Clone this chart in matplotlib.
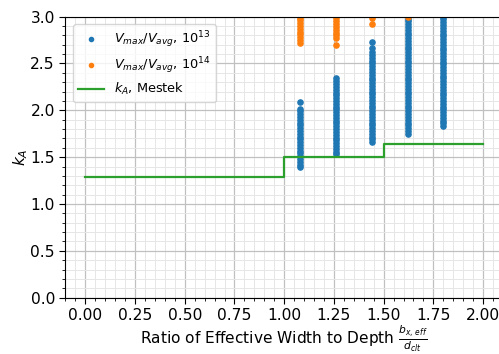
import matplotlib
matplotlib.use("Agg")
import matplotlib.pyplot as plt
from matplotlib.ticker import MultipleLocator

# ratio groups (x positions of the scatter columns)
ratios = [1.08, 1.26, 1.44, 1.62, 1.80]

# V_max/V_avg for 10^13 (blue), one list per ratio
blue_13 = [
    [1.40, 1.42, 1.45, 1.48, 1.51, 1.54, 1.57, 1.60, 1.63, 1.66, 1.69, 1.72, 1.75,
     1.78, 1.81, 1.84, 1.87, 1.90, 1.93, 1.96, 1.99, 2.01, 2.09],
    [1.53, 1.56, 1.59, 1.62, 1.65, 1.68, 1.71, 1.74, 1.77, 1.80, 1.83, 1.86, 1.89,
     1.92, 1.95, 1.98, 2.01, 2.04, 2.07, 2.10, 2.13, 2.16, 2.19, 2.22, 2.25, 2.28,
     2.31, 2.35],
    [1.66, 1.69, 1.72, 1.75, 1.78, 1.81, 1.84, 1.87, 1.90, 1.93, 1.96, 1.99, 2.02,
     2.05, 2.08, 2.11, 2.14, 2.17, 2.20, 2.23, 2.26, 2.29, 2.32, 2.35, 2.38, 2.41,
     2.44, 2.47, 2.50, 2.53, 2.56, 2.59, 2.62, 2.66, 2.73],
    [1.75, 1.78, 1.81, 1.84, 1.87, 1.90, 1.93, 1.96, 1.99, 2.02, 2.05, 2.08, 2.11,
     2.14, 2.17, 2.20, 2.23, 2.26, 2.29, 2.32, 2.35, 2.38, 2.41, 2.44, 2.47, 2.50,
     2.53, 2.56, 2.59, 2.62, 2.65, 2.68, 2.71, 2.74, 2.77, 2.80, 2.83, 2.86, 2.89,
     2.92, 2.95, 2.98, 3.01],
    [1.83, 1.86, 1.89, 1.92, 1.95, 1.98, 2.01, 2.04, 2.07, 2.10, 2.13, 2.16, 2.19,
     2.22, 2.25, 2.28, 2.31, 2.34, 2.37, 2.40, 2.43, 2.46, 2.49, 2.52, 2.55, 2.58,
     2.61, 2.64, 2.67, 2.70, 2.73, 2.76, 2.79, 2.82, 2.85, 2.88, 2.91, 2.94, 2.97,
     3.00],
]

# V_max/V_avg for 10^14 (orange), one list per ratio
orange_14 = [
    [2.72, 2.75, 2.78, 2.81, 2.84, 2.87, 2.90, 2.93, 2.96, 2.99],
    [2.70, 2.77, 2.80, 2.83, 2.86, 2.89, 2.92, 2.95, 2.99],
    [2.92, 2.99],
    [3.00],
    [],
]

# Mestek k_A step curve
mestek_x = [0.0, 1.0, 1.5, 2.0]
mestek_y = [1.29, 1.50, 1.64, 1.64]

fig = plt.figure(figsize=(4.99, 3.54), dpi=100)
ax = fig.add_axes([0.131, 0.159, 0.877, 0.794])

bx, by = [], []
for r, vals in zip(ratios, blue_13):
    bx += [r] * len(vals)
    by += vals
ox, oy = [], []
for r, vals in zip(ratios, orange_14):
    ox += [r] * len(vals)
    oy += vals

ax.plot(bx, by, '.', color='#1f77b4', markersize=7.5, label=r'$V_{max}/V_{avg}$, $10^{13}$')
ax.plot(ox, oy, '.', color='#ff7f0e', markersize=7.5, label=r'$V_{max}/V_{avg}$, $10^{14}$')
ax.plot(mestek_x, mestek_y, drawstyle='steps-post', color='#2ca02c', lw=1.6,
        label=r'$k_A$, Mestek')

ax.set_xlim(-0.1, 2.1)
ax.set_ylim(0.0, 3.0)
ax.xaxis.set_major_locator(MultipleLocator(0.25))
ax.xaxis.set_minor_locator(MultipleLocator(0.05))
ax.yaxis.set_major_locator(MultipleLocator(0.5))
ax.yaxis.set_minor_locator(MultipleLocator(0.1))
ax.tick_params(which='major', labelsize=11.2, length=4)
ax.tick_params(which='minor', length=2.5)
ax.grid(which='major', color='#c0c0c0', lw=0.9)
ax.grid(which='minor', color='#e6e6e6', lw=0.7)
ax.set_axisbelow(True)

ax.set_xlabel(r'Ratio of Effective Width to Depth $\frac{b_{x,\,eff}}{d_{clt}}$',
              fontsize=11.1, labelpad=0)
ax.set_ylabel(r'$k_A$', fontsize=11.2, labelpad=0)
ax.legend(loc='upper left', fontsize=9.3, markerscale=0.8,
          borderaxespad=0.6, handlelength=2.0, labelspacing=0.4)

fig.savefig('out.png', dpi=100)
